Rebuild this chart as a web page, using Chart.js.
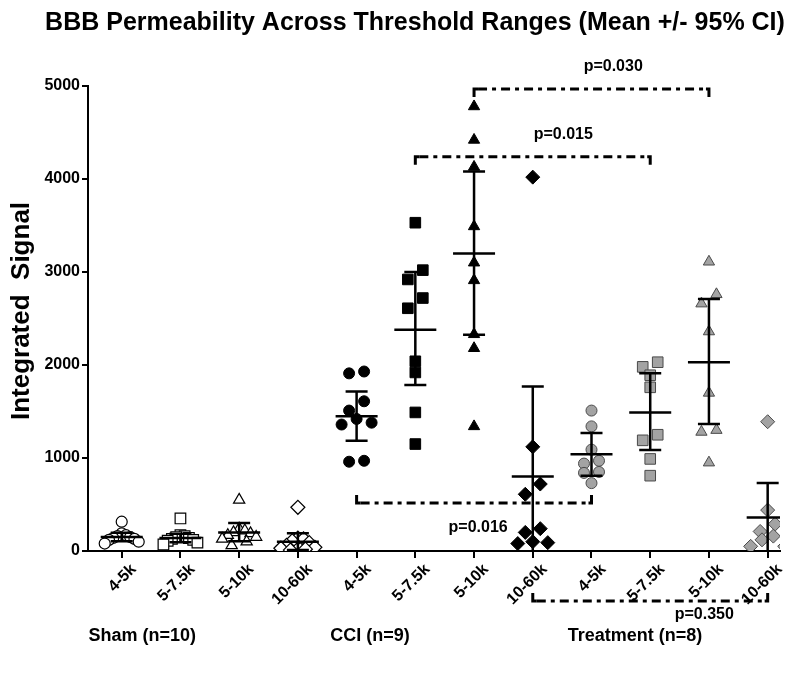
<!DOCTYPE html>
<html>
<head>
<meta charset="utf-8">
<script src="https://cdn.jsdelivr.net/npm/chart.js@4.4.1/dist/chart.umd.min.js"></script>
<style>
  html, body { margin: 0; padding: 0; background: #fff; }
  canvas { display: block; }
</style>
</head>
<body>
<canvas id="bbbChart" width="793" height="675"></canvas>
<script>
// threshold ranges, repeated for each group
const categories = ["4-5k", "5-7.5k", "5-10k", "10-60k", "4-5k", "5-7.5k", "5-10k", "10-60k", "4-5k", "5-7.5k", "5-10k", "10-60k"];
const groups = ["Sham (n=10)", "CCI (n=9)", "Treatment (n=8)"];

// individual animals, one array per category
const sham45 = [315, 190, 170, 160, 150, 140, 130, 120, 100, 80];
const sham575 = [350, 170, 160, 150, 140, 130, 120, 110, 90, 70];
const sham510 = [550, 240, 220, 200, 190, 170, 150, 130, 100, 60];
const sham1060 = [470, 140, 130, 110, 90, 60, 40, 30, 20, 10];
const cci45 = [1930, 1910, 1610, 1510, 1420, 1380, 1360, 970, 960];
const cci575 = [3530, 3020, 2920, 2720, 2610, 2040, 1920, 1490, 1150];
const cci510 = [4780, 4420, 4130, 3490, 3100, 2910, 2330, 2180, 1340];
const cci1060 = [4020, 1120, 720, 610, 240, 200, 100, 90, 80];
const trt45 = [1510, 1340, 1090, 970, 940, 850, 840, 730];
const trt575 = [2030, 1980, 1890, 1760, 1250, 1190, 990, 810];
const trt510 = [3110, 2760, 2660, 2360, 1700, 1300, 1280, 950];
const trt1060 = [1390, 440, 290, 210, 160, 120, 50, 50];

// mean and 95% CI
const means = [150, 140, 200, 100, 1450, 2380, 3200, 800, 1040, 1490, 2030, 360];
const ciHigh = [195, 185, 300, 190, 1715, 3000, 4080, 1770, 1270, 1910, 2710, 730];
const ciLow = [105, 95, 105, 10, 1185, 1785, 2325, -170, 810, 1085, 1365, -5];

// comparisons
const pLabels = ["p=0.030", "p=0.015", "p=0.016", "p=0.350"];
const pFrom = [6, 5, 4, 7];
const pTo = [10, 9, 8, 11];

const series = [sham45, sham575, sham510, sham1060, cci45, cci575, cci510, cci1060, trt45, trt575, trt510, trt1060];

const xMin = -0.574, xMax = 11.21;
const pxPerX = 692 / (xMax - xMin);
const pxPerY = 465 / 5000;

const styles = ["circle", "rect", "triangle", "rectRot"];
const radii = { circle: 5.5, rect: 7.5, triangle: 6.5, rectRot: 7 };
const fills = ["#ffffff", "#000000", "#a3a3a3"];
const borders = ["#000000", "#000000", "#4a4a4a"];

// points close in height share a row and get spread sideways
function swarm(values, center) {
  const binPx = 11, gap = 15, maxSpread = 34;
  const xs = new Array(values.length);
  const order = values.map((v, j) => j).sort((a, b) => values[b] - values[a]);
  let bin = [];
  const flush = () => {
    const n = bin.length;
    const sp = n > 1 ? Math.min(gap, maxSpread / (n - 1)) : 0;
    const slots = [];
    for (let k = 0; k < n; k++) slots.push(k - (n - 1) / 2);
    slots.sort((a, b) => Math.abs(a) - Math.abs(b) || b - a);
    bin.forEach((j, k) => { xs[j] = center + (slots[k] * sp) / pxPerX; });
    bin = [];
  };
  order.forEach((j) => {
    if (bin.length && (values[bin[0]] - values[j]) * pxPerY > binPx) flush();
    bin.push(j);
  });
  flush();
  return xs;
}

const datasets = series.map((vals, i) => {
  const g = Math.floor(i / 4);
  const style = styles[i % 4];
  const xs = swarm(vals, i);
  return {
    label: groups[g] + " " + categories[i],
    data: vals.map((v, j) => ({ x: xs[j], y: v })),
    pointStyle: style,
    pointRadius: radii[style],
    pointBackgroundColor: fills[g],
    pointBorderColor: borders[g],
    pointBorderWidth: g === 0 ? 1.2 : 1,
    showLine: false,
  };
});

const errorBars = {
  id: "errorBars",
  afterDatasetsDraw(chart) {
    const { ctx, chartArea, scales } = chart;
    const x = scales.x, y = scales.y;
    ctx.save();
    ctx.beginPath();
    ctx.rect(chartArea.left, chartArea.top - 10, chartArea.right - chartArea.left, chartArea.bottom - chartArea.top + 10);
    ctx.clip();
    ctx.strokeStyle = "#000";
    ctx.lineWidth = 2.5;
    means.forEach((m, i) => {
      const cx = x.getPixelForValue(i);
      const yHi = y.getPixelForValue(ciHigh[i]);
      const yLo = y.getPixelForValue(ciLow[i]);
      const yM = y.getPixelForValue(m);
      ctx.beginPath();
      ctx.moveTo(cx, yHi); ctx.lineTo(cx, yLo);
      ctx.moveTo(cx - 11, yHi); ctx.lineTo(cx + 11, yHi);
      ctx.moveTo(cx - 11, yLo); ctx.lineTo(cx + 11, yLo);
      ctx.moveTo(cx - 21, yM); ctx.lineTo(cx + 21, yM);
      ctx.stroke();
    });
    ctx.restore();
  },
};

// bracket levels and label spots in axis units
const bracketLevel = [4968, 4240, 516, -537];
const bracketDir = [1, 1, -1, -1];
const pTextX = [8.37, 7.52, 6.07, 9.92];
const pTextY = [5204, 4473, 247, -687];
const groupTextX = [0.35, 4.23, 8.74];

const annotations = {
  id: "annotations",
  afterDraw(chart) {
    const { ctx, scales } = chart;
    const x = scales.x, y = scales.y;
    ctx.save();
    ctx.fillStyle = "#000";
    ctx.strokeStyle = "#000";
    ctx.textAlign = "center";
    ctx.textBaseline = "middle";

    ctx.font = "bold 25px Arial, 'Liberation Sans', sans-serif";
    ctx.fillText("BBB Permeability Across Threshold Ranges (Mean +/- 95% CI)", 415, 23);

    ctx.save();
    ctx.translate(22, 311);
    ctx.rotate(-Math.PI / 2);
    ctx.font = "bold 26px Arial, 'Liberation Sans', sans-serif";
    ctx.fillText("Integrated  Signal", 0, 0);
    ctx.restore();

    pLabels.forEach((lab, i) => {
      const x1 = x.getPixelForValue(pFrom[i]);
      const x2 = x.getPixelForValue(pTo[i]);
      const yy = y.getPixelForValue(bracketLevel[i]);
      const d = bracketDir[i] * 8;
      ctx.lineWidth = 3;
      ctx.setLineDash([9, 5, 4, 5]);
      ctx.beginPath();
      ctx.moveTo(x1 + 4, yy); ctx.lineTo(x2 - 2, yy);
      ctx.stroke();
      ctx.setLineDash([]);
      ctx.beginPath();
      ctx.moveTo(x1, yy + d); ctx.lineTo(x1, yy); ctx.lineTo(x1 + 4, yy);
      ctx.moveTo(x2 - 3, yy); ctx.lineTo(x2, yy); ctx.lineTo(x2, yy + d);
      ctx.stroke();
      ctx.font = "bold 16px Arial, 'Liberation Sans', sans-serif";
      ctx.fillText(lab, x.getPixelForValue(pTextX[i]), y.getPixelForValue(pTextY[i]));
    });

    ctx.font = "bold 18px Arial, 'Liberation Sans', sans-serif";
    groups.forEach((g, i) => ctx.fillText(g, x.getPixelForValue(groupTextX[i]), 636));
    ctx.restore();
  },
};

const tickFont = { family: "Arial, 'Liberation Sans', sans-serif", size: 16, weight: "bold" };

new Chart(document.getElementById("bbbChart"), {
  type: "scatter",
  data: { datasets },
  options: {
    responsive: false,
    animation: false,
    layout: { padding: { top: 86, right: 13, left: 0, bottom: 0 } },
    plugins: { legend: { display: false }, tooltip: { enabled: false } },
    scales: {
      x: {
        type: "linear",
        min: xMin,
        max: xMax,
        afterBuildTicks: (s) => { s.ticks = categories.map((c, i) => ({ value: i })); },
        afterFit: (s) => { s.height = 124; },
        grid: { drawOnChartArea: false, drawTicks: true, tickLength: 7, color: "#000", lineWidth: 2 },
        border: { color: "#000", width: 2 },
        ticks: {
          autoSkip: false,
          maxRotation: 45,
          minRotation: 45,
          padding: 2,
          labelOffset: 12,
          color: "#000",
          font: tickFont,
          callback: (v) => categories[v],
        },
      },
      y: {
        min: 0,
        max: 5000,
        afterFit: (s) => { s.width = 88; },
        grid: { drawOnChartArea: false, drawTicks: true, tickLength: 6, color: "#000", lineWidth: 2 },
        border: { color: "#000", width: 2 },
        ticks: { stepSize: 1000, padding: 2, color: "#000", font: tickFont, callback: (v) => String(v) },
      },
    },
  },
  plugins: [errorBars, annotations],
});
</script>
</body>
</html>
